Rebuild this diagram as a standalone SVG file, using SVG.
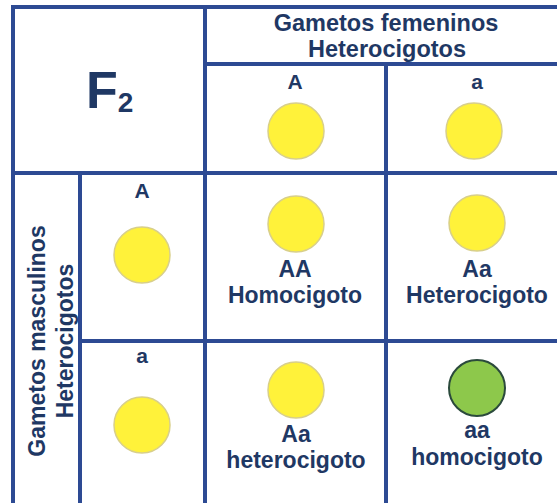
<svg xmlns="http://www.w3.org/2000/svg" width="557" height="503" viewBox="0 0 557 503">
<style>
.ln{stroke:#2d4a93;stroke-width:4;fill:none}
.t{font-family:"Liberation Sans",Arial,sans-serif;font-weight:bold;fill:#1f3864;text-anchor:middle}
.h{font-size:23px}
.s{font-size:21px}
.y{fill:#fff23a;stroke:#d8cf8a;stroke-width:1.5}
.g{fill:#8dc84b;stroke:#2b4a3c;stroke-width:2}
</style>
<rect width="557" height="503" fill="#fff"/>
<g id="grid">
<line class="ln" x1="11" y1="7" x2="557" y2="7" stroke="#4a6cc0"/>
<line class="ln" x1="13" y1="5" x2="13" y2="503"/>
<line class="ln" x1="205" y1="7" x2="205" y2="503"/>
<line class="ln" x1="386" y1="64" x2="386" y2="503"/>
<line class="ln" x1="80" y1="173" x2="80" y2="503"/>
<line class="ln" x1="205" y1="64" x2="557" y2="64"/>
<line class="ln" x1="13" y1="173" x2="557" y2="173"/>
<line class="ln" x1="80" y1="341" x2="557" y2="341"/>
</g>
<g id="title">
<text class="t" y="108" style="font-size:52px;text-anchor:start"><tspan x="86">F</tspan><tspan style="font-size:28px" dy="4">2</tspan></text>
</g>
<g id="female-header">
<text class="t h" x="386" y="31" style="font-size:23.5px">Gametos femeninos</text>
<text class="t h" x="387" y="57" style="font-size:23.5px">Heterocigotos</text>
</g>
<g id="male-header">
<text class="t h" transform="translate(45,341) rotate(-90)">Gametos masculinos</text>
<text class="t h" transform="translate(73,341) rotate(-90)">Heterocigotos</text>
</g>
<g id="female-A">
<text class="t s" x="295" y="89">A</text>
<circle class="y" cx="296" cy="131" r="28"/>
</g>
<g id="female-a">
<text class="t s" x="477" y="89">a</text>
<circle class="y" cx="474" cy="131" r="28"/>
</g>
<g id="male-A">
<text class="t s" x="142" y="198">A</text>
<circle class="y" cx="142" cy="255" r="28"/>
</g>
<g id="male-a">
<text class="t s" x="142" y="363">a</text>
<circle class="y" cx="142" cy="425" r="28"/>
</g>
<g id="cell-AA">
<circle class="y" cx="296" cy="224" r="28"/>
<text class="t h" x="295" y="277">AA</text>
<text class="t h" x="295" y="303">Homocigoto</text>
</g>
<g id="cell-Aa-1">
<circle class="y" cx="477" cy="223" r="28"/>
<text class="t h" x="477" y="277">Aa</text>
<text class="t h" x="477" y="303">Heterocigoto</text>
</g>
<g id="cell-Aa-2">
<circle class="y" cx="296" cy="390" r="28"/>
<text class="t h" x="296" y="442">Aa</text>
<text class="t h" x="296" y="468">heterocigoto</text>
</g>
<g id="cell-aa">
<circle class="g" cx="477" cy="388" r="28"/>
<text class="t h" x="477" y="438">aa</text>
<text class="t h" x="477" y="465">homocigoto</text>
</g>
</svg>
